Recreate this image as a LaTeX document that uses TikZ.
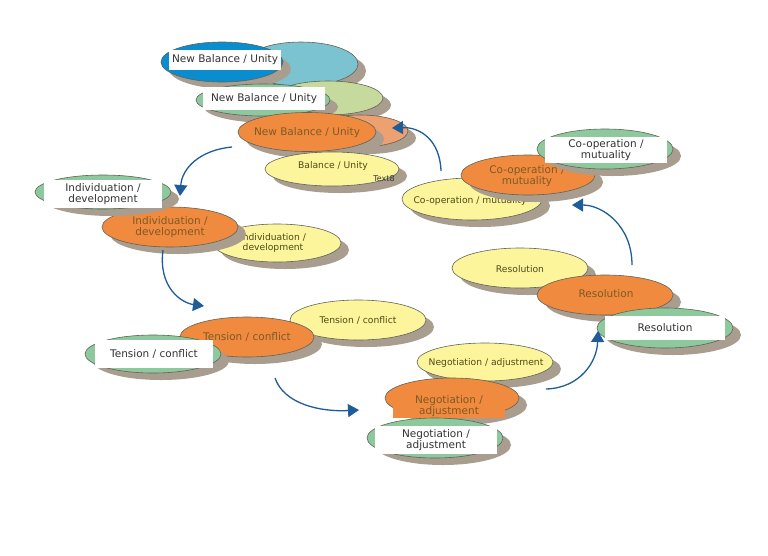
\documentclass[tikz,border=0pt]{standalone}
\usepackage{fontspec}
\setmainfont{DejaVu Sans}
\usetikzlibrary{shapes.geometric,shadows,arrows.meta}
\definecolor{yel}{HTML}{FDF59B}
\definecolor{ora}{HTML}{F08A3E}
\definecolor{grn}{HTML}{8EC99E}
\definecolor{lgrn}{HTML}{C6DA9E}
\definecolor{lblu}{HTML}{7CC3D2}
\definecolor{dblu}{HTML}{0A8DCF}
\definecolor{salm}{HTML}{EDA070}
\definecolor{shad}{HTML}{A89D8F}
\definecolor{edgec}{HTML}{5F6458}
\definecolor{arr}{HTML}{1F5D9A}
\definecolor{ytxt}{HTML}{4F4A18}
\definecolor{otxt}{HTML}{7E5A26}
\definecolor{gtxt}{HTML}{333333}
\tikzset{
  bub/.style 2 args={ellipse, inner sep=0pt, draw=edgec, line width=0.6pt,
    minimum width=#1pt, minimum height=#2pt,
    drop shadow={shadow xshift=8pt, shadow yshift=-7pt, fill=shad, opacity=1}},
  ytext/.style={font=\fontsize{9.2}{10.8}\selectfont, text=ytxt, align=center, inner sep=0pt},
  otext/.style={font=\fontsize{10.5}{11.8}\selectfont, text=otxt, align=center, inner sep=0pt},
  wbox/.style 2 args={fill=white, inner sep=0pt, text=gtxt, align=center,
    font=\fontsize{10.5}{11.8}\selectfont, minimum width=#1pt, minimum height=#2pt},
  conn/.style={draw=arr, line width=1.3pt, -{Triangle[length=11pt,width=13pt]}}
}
\begin{document}
\begin{tikzpicture}[x=1pt,y=-1pt]
\fill[white] (0,0) rectangle (768,555);
\useasboundingbox (0,0) rectangle (768,555);

% top stack
\node[bub={114}{44}, fill=lblu] (lb) at (301,64) {};
\node[bub={122}{40}, fill=dblu] (db) at (222,62) {};
\node[wbox={112}{20}] (dbt) at (225,60) {New Balance / Unity};
\node[bub={110}{34}, fill=lgrn] (lg) at (328,98) {};
\node[bub={134}{32}, fill=grn] (g1) at (263,100) {};
\node[wbox={122}{23}] (g1t) at (264,98.5) {New Balance / Unity};
\node[bub={96}{32}, fill=salm] (sa) at (360,131) {};
\node[bub={138}{39}, fill=ora] (o1) at (307,132) {};
\node[otext] (o1t) at (307,133) {New Balance / Unity};
\node[bub={134}{34}, fill=yel] (y1) at (332,169) {};
\node[ytext] (y1t) at (333,166) {Balance / Unity};
\node[font=\fontsize{8}{9}\selectfont, text=gtxt, inner sep=0pt] (t8) at (384,179) {Text8};

% co-operation
\node[bub={140}{42}, fill=yel] (cy) at (472,199) {};
\node[ytext] (cyt) at (470,201) {Co-operation / mutuality};
\node[bub={134}{40}, fill=ora] (co) at (528,175) {};
\node[otext] (cot) at (527,176) {Co-operation /\\mutuality};
\node[bub={136}{40}, fill=grn] (cg) at (605,149) {};
\node[wbox={122}{26}] (cgt) at (606,150) {Co-operation /\\mutuality};

% individuation
\node[bub={128}{38}, fill=yel] (iy) at (277,243) {};
\node[ytext] (iyt) at (273,243) {Individuation /\\development};
\node[bub={136}{40}, fill=ora] (io) at (170,227) {};
\node[otext] (iot) at (170,227) {Individuation /\\development};
\node[bub={136}{34}, fill=grn] (ig) at (103,192) {};
\node[wbox={118}{28}] (igt) at (103,194) {Individuation /\\development};

% tension
\node[bub={136}{40}, fill=yel] (ty) at (358,320) {};
\node[ytext] (tyt) at (358,320) {Tension / conflict};
\node[bub={134}{40}, fill=ora] (to) at (247,337) {};
\node[otext] (tot) at (247,337) {Tension / conflict};
\node[bub={136}{38}, fill=grn] (tg) at (153,354) {};
\node[wbox={118}{28}] (tgt) at (154,354) {Tension / conflict};

% negotiation
\node[bub={136}{38}, fill=yel] (ny) at (485,362) {};
\node[ytext] (nyt) at (486,363) {Negotiation / adjustment};
\node[bub={134}{40}, fill=ora] (no) at (452,398) {};
\node[otext, fill=ora, minimum width=112pt, minimum height=24pt] (not) at (449,406) {Negotiation /\\adjustment};
\node[bub={136}{40}, fill=grn] (ng) at (435,438) {};
\node[wbox={122}{28}] (ngt) at (436,440) {Negotiation /\\adjustment};

% resolution
\node[bub={136}{40}, fill=yel] (ry) at (520,268) {};
\node[ytext] (ryt) at (520,269) {Resolution};
\node[bub={136}{40}, fill=ora] (ro) at (605,295) {};
\node[otext] (rot) at (606,294) {Resolution};
\node[bub={136}{40}, fill=grn] (rg) at (665,328) {};
\node[wbox={120}{24}] (rgt) at (665,328) {Resolution};

% connectors
\coordinate (a1s) at (232,147); \coordinate (a1e) at (180,196);
\coordinate (a2s) at (441,171); \coordinate (a2e) at (392,128);
\coordinate (a3s) at (163,250); \coordinate (a3e) at (204,306);
\coordinate (a4s) at (275,378); \coordinate (a4e) at (359,410);
\coordinate (a5s) at (546,389); \coordinate (a5e) at (598,331);
\coordinate (a6s) at (632,265); \coordinate (a6e) at (572,205);
\draw[conn] (a1s) .. controls (200,150) and (182,168) .. (a1e);
\draw[conn] (a2s) .. controls (440,140) and (420,127) .. (a2e);
\draw[conn] (a3s) .. controls (158,288) and (182,303) .. (a3e);
\draw[conn] (a4s) .. controls (284,404) and (320,412) .. (a4e);
\draw[conn] (a5s) .. controls (580,388) and (597,362) .. (a5e);
\draw[conn] (a6s) .. controls (632,225) and (602,205) .. (a6e);
\end{tikzpicture}
\end{document}
